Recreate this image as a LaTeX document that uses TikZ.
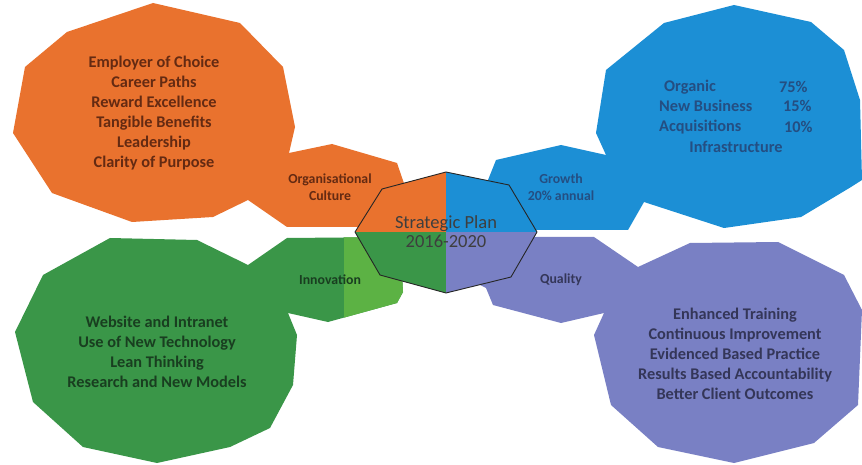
\documentclass[tikz,border=0pt]{standalone}
\usepackage{fontspec}
\setmainfont{Carlito}
\begin{document}
\begin{tikzpicture}[x=1pt,y=-1pt,
  lbl/.style={font=\bfseries\fontsize{16.3}{20}\selectfont, align=center, inner sep=0pt},
  sml/.style={font=\bfseries\fontsize{13.8}{17}\selectfont, align=center, inner sep=0pt}]
\definecolor{corg}{RGB}{233,114,46}
\definecolor{cblu}{RGB}{28,143,213}
\definecolor{cgrn}{RGB}{58,150,72}
\definecolor{clgr}{RGB}{92,178,68}
\definecolor{cpur}{RGB}{121,128,196}
\definecolor{torg}{RGB}{100,42,18}
\definecolor{tblu}{RGB}{36,78,130}
\definecolor{tgrn}{RGB}{25,62,32}
\definecolor{tpur}{RGB}{52,54,88}
\definecolor{tcen}{RGB}{62,62,62}
\useasboundingbox (0,0) rectangle (862,465);
\fill[white] (0,0) rectangle (862,465);
% orange cluster
\fill[corg] (153,3) -- (240,23) -- (283,67) -- (295,127) -- (289,153) -- (332,144) -- (397,163) -- (408,195) -- (412,227) -- (287,227) -- (248,200) -- (213,217) -- (132,222) -- (52,193) -- (13,133) -- (25,67) -- (67,32) -- cycle;
% blue cluster
\fill[cblu] (734,5) -- (811,22) -- (844,50) -- (860,100) -- (862,180) -- (851,187) -- (801,217) -- (724,228) -- (644,202) -- (628,230) -- (470,230) -- (480,200) -- (488,180) -- (496,160) -- (561,145) -- (606,155) -- (596,133) -- (606,70) -- (664,23) -- cycle;
% green cluster
\fill[cgrn] (110,238) -- (197,240) -- (248,265) -- (287,238) -- (400,237) -- (403,292) -- (397,303) -- (328,322) -- (288,313) -- (297,335) -- (293,385) -- (270,428) -- (230,447) -- (157,463) -- (83,447) -- (33,402) -- (15,332) -- (43,275) -- cycle;
\begin{scope}
\clip (287,238) -- (400,237) -- (403,292) -- (397,303) -- (328,322) -- (288,313) -- cycle;
\fill[clgr] (344,230) rectangle (410,330);
\end{scope}
% purple cluster
\fill[cpur] (446,237) -- (594,237) -- (638,267) -- (690,243) -- (778,242) -- (844,275) -- (862,310) -- (858,405) -- (814,443) -- (734,463) -- (658,447) -- (611,405) -- (594,335) -- (604,313) -- (561,323) -- (493,305) -- (486,288) -- (470,280) -- cycle;
% central octagon
\begin{scope}
\clip (446,172) -- (509,185) -- (537,232) -- (511,277) -- (446,293) -- (380,275) -- (355,232) -- (382,189) -- cycle;
\fill[corg] (340,160) rectangle (446,232);
\fill[cblu] (446,160) rectangle (550,232);
\fill[cgrn] (340,232) rectangle (446,300);
\fill[cpur] (446,232) rectangle (550,300);
\end{scope}
\draw[black!85, line width=0.9pt, line join=round] (446,172) -- (509,185) -- (537,232) -- (511,277) -- (446,293) -- (380,275) -- (355,232) -- (382,189) -- cycle;
% texts
\node[lbl, text=torg] (orglist) at (154,113) {Employer of Choice\\Career Paths\\Reward Excellence\\Tangible Benefits\\Leadership\\Clarity of Purpose};
\node[sml, text=torg] (orgcult) at (330,187) {Organisational\\Culture};
\node[sml, text=tblu] (growth) at (561,187) {Growth\\20\% annual};
\node[lbl, text=tblu, anchor=west] (b1) at (664,87) {Organic};
\node[lbl, text=tblu, anchor=west] (b1p) at (779,87) {75\%};
\node[lbl, text=tblu, anchor=west] (b2) at (659,106) {New Business};
\node[lbl, text=tblu, anchor=west] (b2p) at (783,106) {15\%};
\node[lbl, text=tblu, anchor=west] (b3) at (659,127) {Acquisitions};
\node[lbl, text=tblu, anchor=west] (b3p) at (784,127) {10\%};
\node[lbl, text=tblu] (b4) at (736,147) {Infrastructure};
\node[sml, text=tgrn] (innov) at (330,280) {Innovation};
\node[lbl, text=tgrn] (grnlist) at (157,352) {Website and Intranet\\Use of New Technology\\Lean Thinking\\Research and New Models};
\node[sml, text=tpur] (quality) at (561,280) {Quality};
\node[lbl, text=tpur] (purlist) at (735,354) {Enhanced Training\\Continuous Improvement\\Evidenced Based Practice\\Results Based Accountability\\Better Client Outcomes};
\node[font=\fontsize{18.5}{19}\selectfont, align=center, inner sep=0pt, text=tcen] (center) at (446,232) {Strategic Plan\\2016-2020};
\end{tikzpicture}
\end{document}
